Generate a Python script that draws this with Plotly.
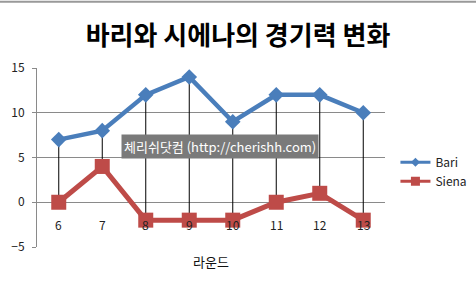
import plotly.graph_objects as go

rounds = ["6", "7", "8", "9", "10", "11", "12", "13"]
bari = [7, 8, 12, 14, 9, 12, 12, 10]
siena = [0, 4, -2, -2, -2, 0, 1, -2]
title_text = "바리와 시에나의 경기력 변화"
x_title = "라운드"
watermark = "체리쉬닷컴 (http://cherishh.com)"

FONT = "Noto Sans CJK KR"
BLUE = "#4A7EBB"
RED = "#BE4B48"

fig = go.Figure()

# high-low lines
hx, hy = [], []
for i, (b, s) in enumerate(zip(bari, siena)):
    hx += [i, i, None]
    hy += [b, s, None]
fig.add_trace(go.Scatter(x=hx, y=hy, mode="lines", line=dict(color="black", width=1),
                         showlegend=False, hoverinfo="skip"))

idx = list(range(len(rounds)))
fig.add_trace(go.Scatter(x=idx, y=bari, name="Bari", mode="lines+markers", showlegend=False,
                         line=dict(color=BLUE, width=4.5),
                         marker=dict(symbol="diamond", size=12, color=BLUE)))
fig.add_trace(go.Scatter(x=idx, y=siena, name="Siena", mode="lines+markers", showlegend=False,
                         line=dict(color=RED, width=5),
                         marker=dict(symbol="square", size=15, color=RED)))
# legend entries (smaller symbols as in the reference)
fig.add_trace(go.Scatter(x=[None], y=[None], name="Bari", mode="lines+markers",
                         line=dict(color=BLUE, width=3),
                         marker=dict(symbol="diamond", size=7, color=BLUE)))
fig.add_trace(go.Scatter(x=[None], y=[None], name="Siena", mode="lines+markers",
                         line=dict(color=RED, width=3),
                         marker=dict(symbol="square", size=9, color=RED)))

# category labels placed along the zero line
for i, r in enumerate(rounds):
    fig.add_annotation(x=i, y=0, xref="x", yref="y", text=r, showarrow=False,
                       yshift=-22, font=dict(family=FONT, size=12, color="#222"))

fig.add_annotation(x=0.5, y=(247 - 261) / 179, xref="paper", yref="paper", text=x_title,
                   showarrow=False, yanchor="middle",
                   font=dict(family=FONT, size=13, color="#111"))

fig.add_annotation(x=(220 - 37) / 348, y=(247 - 146) / 179, xref="paper", yref="paper",
                   text=watermark, showarrow=False, bgcolor="#7a7a7a", borderpad=2,
                   yanchor="middle",
                   font=dict(family=FONT, size=13, color="white"))

fig.update_layout(
    width=476, height=287,
    margin=dict(l=37, r=91, t=68, b=40, autoexpand=False),
    paper_bgcolor="white", plot_bgcolor="white",
    title=dict(text="<b>" + title_text + "</b>", x=0.5, xref="container", xanchor="center",
               y=1 - 36 / 287, yanchor="middle", font=dict(family=FONT, size=26, color="black")),
    legend=dict(x=1.03, y=0.42, xanchor="left", yanchor="middle", itemwidth=30,
                font=dict(family=FONT, size=12, color="#222"), tracegroupgap=8,
                bgcolor="rgba(0,0,0,0)"),
    showlegend=True,
    xaxis=dict(range=[-0.5, 7.5], showticklabels=False, showgrid=False,
               zeroline=False, showline=False, ticks=""),
    yaxis=dict(range=[-5, 15], dtick=5, showgrid=True, gridcolor="#8a8a8a", gridwidth=1,
               zeroline=False, showline=True, linecolor="#8a8a8a", ticks="outside",
               ticklen=4, tickcolor="#8a8a8a", ticklabelstandoff=5,
               tickfont=dict(family=FONT, size=12, color="#222")),
    shapes=[dict(type="line", xref="paper", yref="paper", x0=-0.2, x1=1.5, y0=1.37, y1=1.37,
                 line=dict(color="#999", width=2))],
)

fig.write_html("out.html")
